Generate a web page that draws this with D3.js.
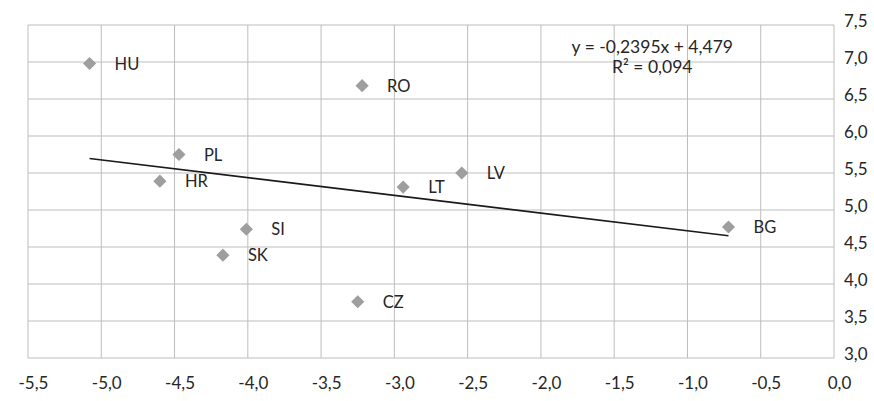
<!DOCTYPE html>
<html>
<head>
<meta charset="utf-8">
<script src="https://cdn.jsdelivr.net/npm/d3@7"></script>
<style>
  body { margin: 0; background: #fff; overflow: hidden; }
  text { font-family: "Lato", "Open Sans", sans-serif; fill: #262626; }
</style>
</head>
<body>
<div id="chart"></div>
<script>
// data
const countries = ["HU", "PL", "HR", "RO", "LT", "LV", "SI", "SK", "CZ", "BG"];
const xValues = [-5.08, -4.47, -4.60, -3.22, -2.94, -2.54, -4.01, -4.17, -3.25, -0.72];
const yValues = [6.98, 5.75, 5.39, 6.68, 5.31, 5.50, 4.74, 4.39, 3.76, 4.77];
const xTicks = [-5.5, -5.0, -4.5, -4.0, -3.5, -3.0, -2.5, -2.0, -1.5, -1.0, -0.5, 0.0];
const yTicks = [3.0, 3.5, 4.0, 4.5, 5.0, 5.5, 6.0, 6.5, 7.0, 7.5];
const slope = -0.2395, intercept = 4.479;
const equationLines = ["y = -0,2395x + 4,479", "R² = 0,094"];

const margin = {top: 25, right: 40, bottom: 43, left: 28},
    width = 874 - margin.left - margin.right,
    height = 401 - margin.top - margin.bottom;

const svg = d3.select("#chart")
    .append("svg")
    .attr("width", 874)
    .attr("height", 401)
    .append("g")
    .attr("transform", `translate(${margin.left},${margin.top})`);

const x = d3.scaleLinear().domain([-5.5, 0]).range([0, width]);
const y = d3.scaleLinear().domain([3, 7.5]).range([height, 0]);

const loc = d3.formatLocale({decimal: ",", thousands: ".", grouping: [3], currency: ["", ""], minus: "-"});
const fmt = loc.format(".1f");

// grid
svg.append("g")
    .selectAll("line")
    .data(xTicks)
    .join("line")
    .attr("x1", d => x(d)).attr("x2", d => x(d))
    .attr("y1", 0).attr("y2", height)
    .attr("stroke", "#bdbdbd");

svg.append("g")
    .selectAll("line")
    .data(yTicks)
    .join("line")
    .attr("x1", 0).attr("x2", width)
    .attr("y1", d => y(d)).attr("y2", d => y(d))
    .attr("stroke", "#bdbdbd");

// x axis labels
const xAxis = svg.append("g")
    .attr("transform", `translate(0, ${height})`)
    .call(d3.axisBottom(x).tickValues(xTicks).tickFormat(fmt).tickSize(0).tickPadding(19));
xAxis.select(".domain").remove();
xAxis.selectAll("text")
    .attr("dx", 5)
    .style("font-size", "17px")
    .style("font-family", "Lato, sans-serif")
    .attr("fill", "#262626");

// y axis labels on the right
const yAxis = svg.append("g")
    .attr("transform", `translate(${width}, 0)`)
    .call(d3.axisRight(y).tickValues(yTicks).tickFormat(fmt).tickSize(0).tickPadding(10));
yAxis.select(".domain").remove();
yAxis.selectAll("text")
    .attr("dy", "0.1em")
    .style("font-size", "17px")
    .style("font-family", "Lato, sans-serif")
    .attr("fill", "#262626");

// trendline
const xmin = d3.min(xValues), xmax = d3.max(xValues);
svg.append("line")
    .attr("x1", x(xmin)).attr("y1", y(slope * xmin + intercept))
    .attr("x2", x(xmax)).attr("y2", y(slope * xmax + intercept))
    .attr("stroke", "#1a1a1a")
    .attr("stroke-width", 1.6);

// points
const points = countries.map((c, i) => ({name: c, x: xValues[i], y: yValues[i]}));

svg.selectAll("mypoints")
    .data(points)
    .enter()
    .append("path")
    .attr("d", d3.symbol().type(d3.symbolDiamond2).size(110))
    .attr("transform", d => `translate(${x(d.x)},${y(d.y)})`)
    .attr("fill", "#9e9e9e");

svg.selectAll("mylabels")
    .data(points)
    .enter()
    .append("text")
    .attr("x", d => x(d.x) + 25)
    .attr("y", d => y(d.y) + 2)
    .attr("dominant-baseline", "middle")
    .style("font-size", "16.5px")
    .text(d => d.name);

// equation
svg.selectAll("myeq")
    .data(equationLines)
    .enter()
    .append("text")
    .attr("x", x(-1.24))
    .attr("y", (d, i) => 28 + i * 20)
    .attr("text-anchor", "middle")
    .style("font-size", "17.5px")
    .text(d => d);
</script>
</body>
</html>
